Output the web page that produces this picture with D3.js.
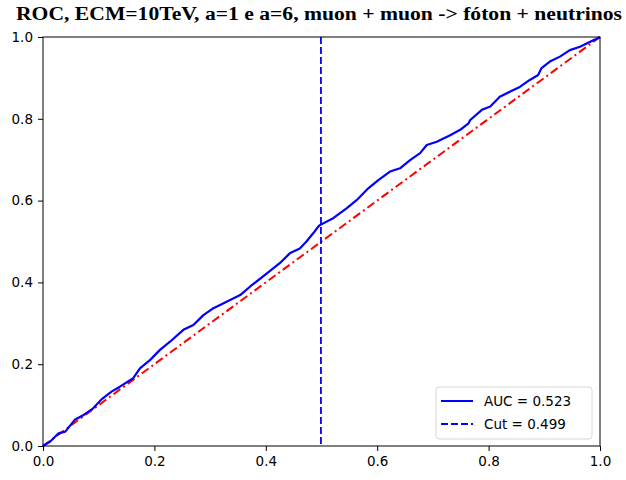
<!DOCTYPE html>
<html>
<head>
<meta charset="utf-8">
<script src="https://cdn.jsdelivr.net/npm/d3@7"></script>
<style>
  body { margin: 0; background: #fff; }
  svg { display: block; }
</style>
</head>
<body>
<div id="chart"></div>
<script>
const W = 626, H = 480;
const margin = { t: 37, r: 26, b: 34, l: 43 };
const innerWidth = W - margin.l - margin.r;
const innerHeight = H - margin.t - margin.b;

// ROC curve
const fpr = [0, 0.013, 0.028, 0.040, 0.057, 0.073, 0.090, 0.105, 0.123, 0.138, 0.162, 0.174, 0.192, 0.210,
  0.228, 0.252, 0.270, 0.288, 0.306, 0.336, 0.354, 0.372, 0.402, 0.425, 0.443, 0.461, 0.473, 0.485, 0.494,
  0.497, 0.521, 0.545, 0.563, 0.584, 0.602, 0.623, 0.641, 0.659, 0.677, 0.689, 0.707, 0.731, 0.749, 0.764,
  0.767, 0.788, 0.803, 0.820, 0.838, 0.856, 0.874, 0.889, 0.895, 0.910, 0.928, 0.946, 0.964, 0.976, 0.988, 0.995, 1];
const tpr = [0, 0.011, 0.031, 0.035, 0.064, 0.076, 0.092, 0.114, 0.133, 0.145, 0.166, 0.190, 0.210, 0.235,
  0.255, 0.284, 0.296, 0.320, 0.337, 0.357, 0.369, 0.390, 0.422, 0.447, 0.471, 0.483, 0.500, 0.520, 0.536,
  0.540, 0.557, 0.581, 0.601, 0.630, 0.650, 0.671, 0.679, 0.699, 0.716, 0.736, 0.744, 0.760, 0.773, 0.789,
  0.797, 0.822, 0.830, 0.854, 0.866, 0.878, 0.895, 0.907, 0.924, 0.940, 0.952, 0.968, 0.976, 0.984, 0.992, 0.996, 1];
const diagonal = [0, 1];
const cut = 0.499;
const auc = 0.523;
const ticks = [0, 0.2, 0.4, 0.6, 0.8, 1.0];
const title = 'ROC, ECM=10TeV, a=1 e a=6, muon + muon -> fóton + neutrinos';
const legendLabels = ['AUC = ' + auc, 'Cut = ' + cut];

const x = d3.scaleLinear().domain([0, 1]).range([0, innerWidth]);
const y = d3.scaleLinear().domain([0, 1]).range([innerHeight, 0]);

const svg = d3.select('#chart')
  .append('svg')
  .attr('width', W)
  .attr('height', H);

svg.append('defs').append('clipPath').attr('id', 'clip')
  .append('rect').attr('x', -2).attr('y', -2).attr('width', innerWidth + 4).attr('height', innerHeight + 4);

svg.append('text')
  .attr('x', 16)
  .attr('y', 19.5)
  .attr('textLength', 606)
  .attr('lengthAdjust', 'spacingAndGlyphs')
  .style('font-family', '"Liberation Serif", "Times New Roman", serif')
  .style('font-weight', 'bold')
  .style('font-size', '18.5px')
  .text(title);

const plot = svg.append('g')
  .attr('transform', `translate(${margin.l}, ${margin.t})`);

const lines = plot.append('g').attr('clip-path', 'url(#clip)');

// diagonal reference
lines.append('path')
  .datum(diagonal)
  .attr('d', d3.line().x(d => x(d)).y(d => y(d)))
  .attr('fill', 'none')
  .attr('stroke', '#ff0000')
  .attr('stroke-width', 2)
  .attr('stroke-dasharray', '8.5,3.5,2,3.5');

// roc curve
const rocData = fpr.map((f, i) => [f, tpr[i]]);
lines.append('path')
  .datum(rocData)
  .attr('d', d3.line().x(d => x(d[0])).y(d => y(d[1])))
  .attr('fill', 'none')
  .attr('stroke', '#0000ff')
  .attr('stroke-width', 2.2)
  .attr('stroke-linejoin', 'round');

// cut line
lines.append('line')
  .attr('x1', x(cut)).attr('x2', x(cut))
  .attr('y1', 0).attr('y2', innerHeight)
  .attr('stroke', '#0000ff')
  .attr('stroke-width', 1.8)
  .attr('stroke-dasharray', '7,3');

// axes
const axisStyle = g => {
  g.selectAll('.domain').remove();
  g.selectAll('line').attr('stroke', '#000').attr('stroke-width', 1);
  g.selectAll('text')
    .attr('fill', '#000')
    .style('font-family', '"DejaVu Sans", sans-serif')
    .style('font-size', '13.5px');
};

plot.append('g')
  .attr('transform', `translate(0, ${innerHeight})`)
  .call(d3.axisBottom(x).tickValues(ticks).tickSize(5).tickPadding(5).tickFormat(d3.format('.1f')))
  .call(axisStyle);

plot.append('g')
  .call(d3.axisLeft(y).tickValues(ticks).tickSize(5).tickPadding(5).tickFormat(d3.format('.1f')))
  .call(axisStyle);

// frame
plot.append('rect')
  .attr('width', innerWidth)
  .attr('height', innerHeight)
  .attr('fill', 'none')
  .attr('stroke', '#000')
  .attr('stroke-width', 1);

// legend
const legend = plot.append('g')
  .attr('transform', `translate(${innerWidth - 164}, ${innerHeight - 59})`);

legend.append('rect')
  .attr('width', 156)
  .attr('height', 52)
  .attr('rx', 3)
  .attr('fill', '#fff')
  .attr('fill-opacity', 0.8)
  .attr('stroke', '#d6d6d6')
  .attr('stroke-width', 1);

legendLabels.forEach((label, i) => {
  const ly = 14 + i * 23;
  legend.append('line')
    .attr('x1', 5).attr('x2', 37)
    .attr('y1', ly).attr('y2', ly)
    .attr('stroke', '#0000ff')
    .attr('stroke-width', 2)
    .attr('stroke-dasharray', i === 1 ? '7,3' : null);
  legend.append('text')
    .attr('x', 48)
    .attr('y', ly + 5)
    .style('font-family', '"DejaVu Sans", sans-serif')
    .style('font-size', '13.5px')
    .text(label);
});
</script>
</body>
</html>
